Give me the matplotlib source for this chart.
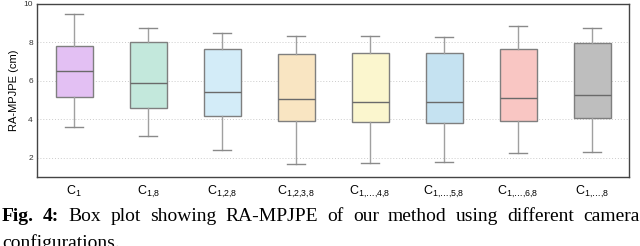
import matplotlib
matplotlib.use("Agg")
import matplotlib.pyplot as plt

plt.rcParams["font.family"] = ["Liberation Sans", "DejaVu Sans"]
plt.rcParams["mathtext.fontset"] = "custom"
plt.rcParams["mathtext.rm"] = "Liberation Sans"
plt.rcParams["mathtext.it"] = "Liberation Sans:italic"

# box statistics (cm)
configs = ["1", "1,8", "1,2,8", "1,2,3,8", "1,…,4,8", "1,…,5,8", "1,…,6,8", "1,…,8"]
whisker_low = [3.61, 3.11, 2.38, 1.67, 1.72, 1.79, 2.24, 2.29]
q1 = [5.18, 4.61, 4.18, 3.91, 3.87, 3.83, 3.91, 4.06]
median = [6.54, 5.90, 5.43, 5.05, 4.91, 4.91, 5.10, 5.26]
q3 = [7.82, 8.03, 7.65, 7.39, 7.44, 7.47, 7.66, 7.96]
whisker_high = [9.46, 8.75, 8.49, 8.35, 8.35, 8.27, 8.86, 8.77]
colors = ["#e3c0f3", "#c3e8dc", "#d3ecf8", "#f9e5c2", "#fbf6ce", "#c5e2f1", "#f9c6c3", "#bebebe"]

stats = []
for i in range(len(configs)):
    stats.append({"whislo": whisker_low[i], "q1": q1[i], "med": median[i],
                  "q3": q3[i], "whishi": whisker_high[i], "fliers": []})

fig = plt.figure(figsize=(6.4, 2.46), dpi=100)
ax = fig.add_axes([37 / 640, 1 - 177 / 246, 592 / 640, 173 / 246])

bp = ax.bxp(stats, positions=range(1, len(configs) + 1), widths=0.5,
            patch_artist=True, showfliers=False,
            boxprops=dict(edgecolor="#7f7f7f", linewidth=1.0),
            medianprops=dict(color="#6a6a6a", linewidth=1.0),
            whiskerprops=dict(color="#a0a0a0", linewidth=1.0),
            capprops=dict(color="#8a8a8a", linewidth=1.0))
for patch, c in zip(bp["boxes"], colors):
    patch.set_facecolor(c)

ax.set_xlim(0.5, 8.5)
ax.set_ylim(1, 10)
ax.set_yticks([2, 4, 6, 8, 10])
ax.yaxis.grid(True, linestyle=(0, (1, 2)), color="#cccccc", linewidth=0.7)
ax.set_axisbelow(True)
ax.tick_params(axis="y", length=0, labelsize=6, pad=3, labelcolor="#333333")
ax.tick_params(axis="x", length=0, labelsize=9, pad=5)
ax.set_xticks(range(1, len(configs) + 1))
# braces round the commas keep mathtext from adding space after them
ax.set_xticklabels([r"C$_{\mathrm{%s}}$" % c.replace(",", "{,}") for c in configs])
ax.set_ylabel("RA-MPJPE (cm)", fontsize=8, labelpad=3)
for s in ax.spines.values():
    s.set_color("#444444")
    s.set_linewidth(1.0)

# caption, justified across the width
fig.canvas.draw()
r = fig.canvas.get_renderer()
words = [("Fig.", "bold"), ("4:", "bold"), ("Box", "normal"), ("plot", "normal"),
         ("showing", "normal"), ("RA-MPJPE", "normal"), ("of", "normal"), ("our", "normal"),
         ("method", "normal"), ("using", "normal"), ("different", "normal"), ("camera", "normal")]
y1 = 1 - 221 / 246
texts = []
total = 0
for w, wt in words:
    t = fig.text(0, y1, w, fontsize=14, family="Liberation Serif", weight=wt, va="baseline")
    total += t.get_window_extent(r).width
    texts.append(t)
gap = (640 - 2 - total) / (len(words) - 1)
x = 2
for t in texts:
    t.set_x(x / 640)
    x += t.get_window_extent(r).width + gap
fig.text(2 / 640, 1 - 248 / 246, "configurations.", fontsize=14,
         family="Liberation Serif", va="baseline")

fig.savefig("out.png", dpi=100)
